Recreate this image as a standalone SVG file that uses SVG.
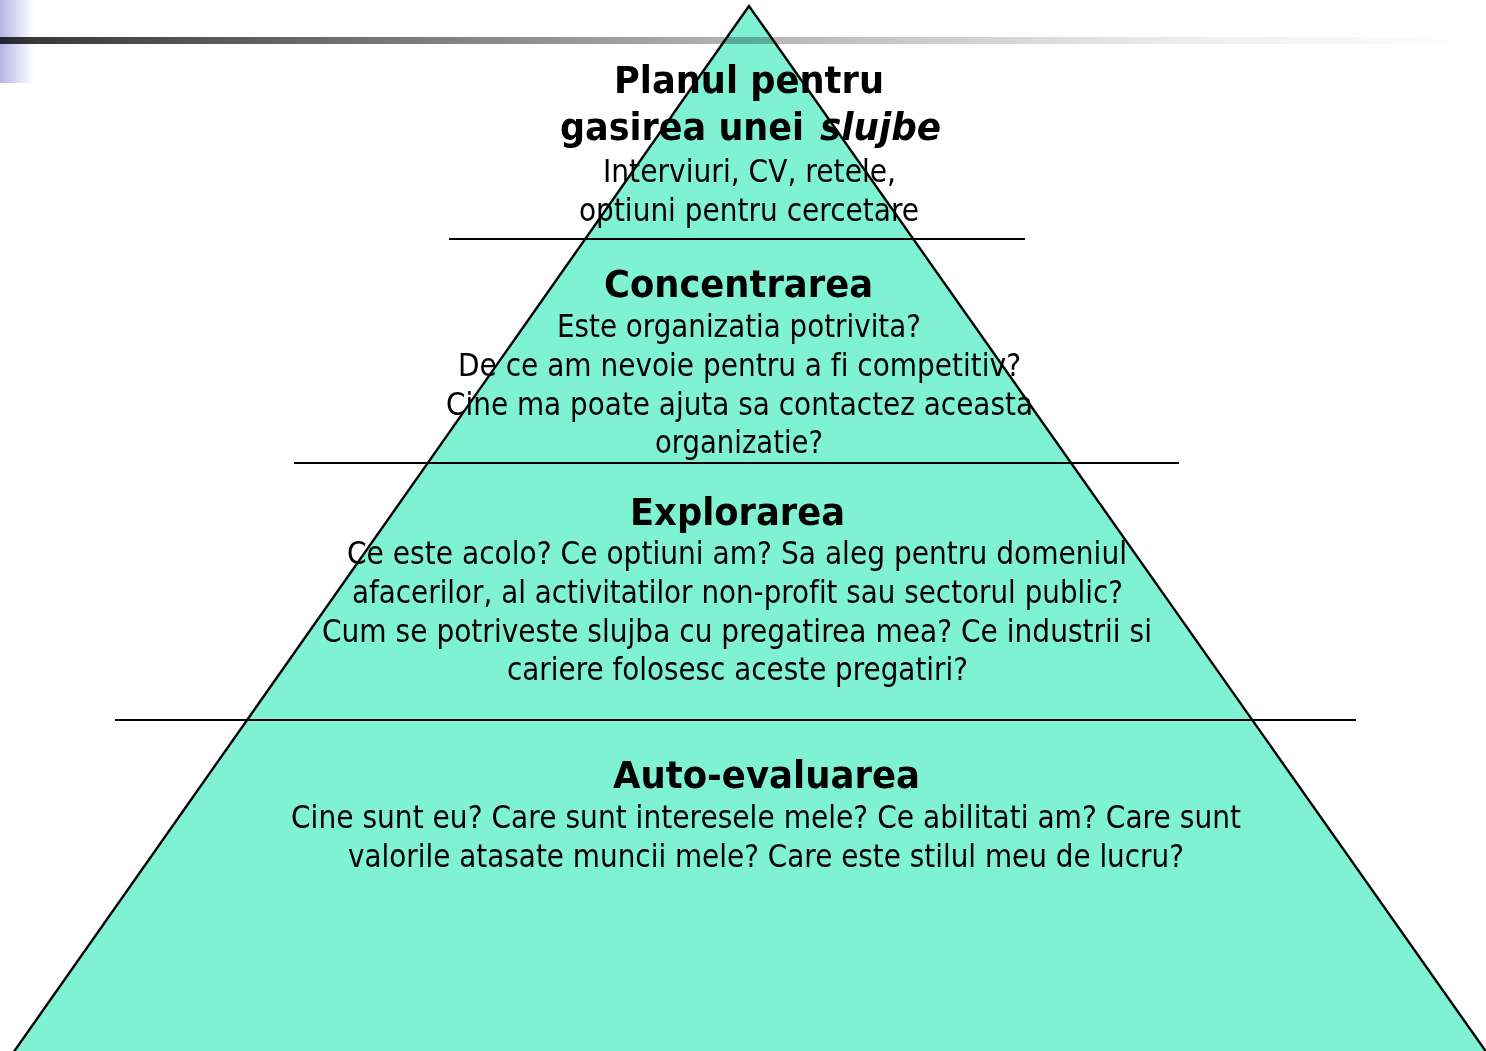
<svg xmlns="http://www.w3.org/2000/svg" width="1486" height="1051" viewBox="0 0 1486 1051">
<defs>
<linearGradient id="bar" x1="0" y1="0" x2="1486" y2="0" gradientUnits="userSpaceOnUse">
<stop offset="0" stop-color="#333333"/>
<stop offset="0.2" stop-color="#686868"/>
<stop offset="0.48" stop-color="#b0b0b0"/>
<stop offset="0.8" stop-color="#eeeeee"/>
<stop offset="1" stop-color="#ffffff"/>
</linearGradient>
<linearGradient id="blue" x1="0" y1="0" x2="1" y2="0">
<stop offset="0" stop-color="#b4b4e6"/>
<stop offset="1" stop-color="#ffffff"/>
</linearGradient>
<style>
.t{font-family:"DejaVu Sans","Liberation Sans",sans-serif;fill:#000;text-anchor:middle;font-variant-ligatures:none}
.h{font-size:37px;font-weight:bold}
.b{font-size:31.5px}
.div{stroke:#000;stroke-width:2}
</style>
</defs>
<rect x="0" y="0" width="1486" height="1051" fill="#fff"/>
<rect x="0" y="0" width="34" height="83" fill="url(#blue)"/>
<polygon id="pyramid-fill" points="749,6 13,1053 1487,1053" fill="#80f2d4"/>
<rect x="0" y="37" width="1486" height="7" fill="url(#bar)" style="mix-blend-mode:multiply"/>
<polygon id="pyramid-outline" points="749,6 13,1053 1487,1053" fill="none" stroke="#000" stroke-width="2.4"/>
<g id="connectors">
<line class="div" x1="449" y1="239" x2="1025" y2="239"/>
<line class="div" x1="294" y1="463" x2="1179" y2="463"/>
<line class="div" x1="115" y1="720" x2="1356" y2="720"/>
</g>
<g id="tier-plan">
<text class="t h" x="749" y="93" textLength="270" lengthAdjust="spacingAndGlyphs">Planul pentru</text>
<text class="t h" y="140" style="text-anchor:start"><tspan x="560" textLength="244" lengthAdjust="spacingAndGlyphs">gasirea unei</tspan><tspan x="820" textLength="121" lengthAdjust="spacingAndGlyphs" style="font-style:italic">slujbe</tspan></text>
<text class="t b" x="749.5" y="182" textLength="293" lengthAdjust="spacingAndGlyphs">Interviuri, CV, retele,</text>
<text class="t b" x="749" y="221" textLength="340" lengthAdjust="spacingAndGlyphs">optiuni pentru cercetare</text>
</g>
<g id="tier-concentrarea">
<text class="t h" x="738.5" y="297" textLength="269" lengthAdjust="spacingAndGlyphs">Concentrarea</text>
<text class="t b" x="739" y="337" textLength="364" lengthAdjust="spacingAndGlyphs">Este organizatia potrivita?</text>
<text class="t b" x="739.5" y="376" textLength="563" lengthAdjust="spacingAndGlyphs">De ce am nevoie pentru a fi competitiv?</text>
<text class="t b" x="739.5" y="415" textLength="587" lengthAdjust="spacingAndGlyphs">Cine ma poate ajuta sa contactez aceasta</text>
<text class="t b" x="739" y="453" textLength="168" lengthAdjust="spacingAndGlyphs">organizatie?</text>
</g>
<g id="tier-explorarea">
<text class="t h" x="737.5" y="525" textLength="215" lengthAdjust="spacingAndGlyphs">Explorarea</text>
<text class="t b" x="737" y="564" textLength="780" lengthAdjust="spacingAndGlyphs">Ce este acolo? Ce optiuni am? Sa aleg pentru domeniul</text>
<text class="t b" x="737.5" y="603" textLength="771" lengthAdjust="spacingAndGlyphs">afacerilor, al activitatilor non-profit sau sectorul public?</text>
<text class="t b" x="737" y="642" textLength="830" lengthAdjust="spacingAndGlyphs">Cum se potriveste slujba cu pregatirea mea? Ce industrii si</text>
<text class="t b" x="737.5" y="680" textLength="461" lengthAdjust="spacingAndGlyphs">cariere folosesc aceste pregatiri?</text>
</g>
<g id="tier-autoevaluarea">
<text class="t h" x="766.5" y="788" textLength="307" lengthAdjust="spacingAndGlyphs">Auto-evaluarea</text>
<text class="t b" x="766" y="828" textLength="950" lengthAdjust="spacingAndGlyphs">Cine sunt eu? Care sunt interesele mele? Ce abilitati am? Care sunt</text>
<text class="t b" x="766" y="867" textLength="836" lengthAdjust="spacingAndGlyphs">valorile atasate muncii mele? Care este stilul meu de lucru?</text>
</g>
</svg>
